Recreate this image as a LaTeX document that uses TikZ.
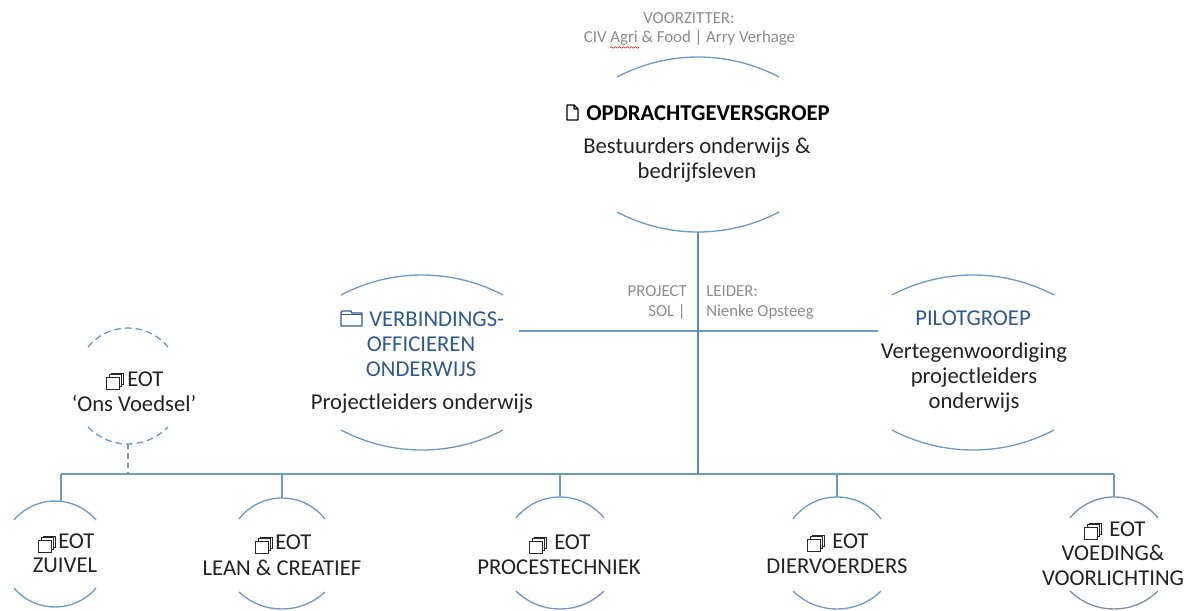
\documentclass[tikz,border=0pt]{standalone}
\usepackage{fontspec}
\setmainfont{Carlito}
\usetikzlibrary{decorations.pathmorphing}
\definecolor{arcblue}{HTML}{6F9AC4}
\definecolor{linkblue}{HTML}{6C9BC8}
\definecolor{trunkblue}{HTML}{5488B8}
\definecolor{headblue}{HTML}{2F5A8C}
\definecolor{greytxt}{HTML}{8C8C8C}
\definecolor{inktxt}{HTML}{222222}
\definecolor{arcgrey}{HTML}{7F8FA6}
% circular arc pair: centre x, half chord, top end y, top sagitta, bottom end y, bottom sagitta, style
\newcommand{\arcpair}[7]{%
  \draw[#7] (#1-#2,#3) .. controls (#1-#2/3-2*#4*#4/3/#2,#3-#4*4/3) and (#1+#2/3+2*#4*#4/3/#2,#3-#4*4/3) .. (#1+#2,#3);
  \draw[#7] (#1-#2,#5) .. controls (#1-#2/3-2*#6*#6/3/#2,#5+#6*4/3) and (#1+#2/3+2*#6*#6/3/#2,#5+#6*4/3) .. (#1+#2,#5);
}
\tikzset{
  x=0.75pt,y=-0.75pt,
  arcline/.style={draw=arcblue,line width=1pt},
  dasharc/.style={draw=arcblue,line width=1pt,dash pattern=on 5pt off 3pt},
  greyarc/.style={draw=arcgrey,line width=1pt},
  link/.style={draw=linkblue,line width=1.2pt},
  trunk/.style={draw=trunkblue,line width=1.4pt},
  dashlink/.style={draw=arcblue,line width=1pt,dash pattern=on 4pt off 3pt},
  body/.style={align=center,inner sep=0pt,text=inktxt,font=\fontsize{17}{18.8}\selectfont},
  eot/.style={body,font=\fontsize{17}{18}\selectfont},
  head/.style={align=center,inner sep=0pt,text=headblue,font=\fontsize{17}{18.8}\selectfont},
  small/.style={inner sep=0pt,text=greytxt,font=\fontsize{12.6}{15}\selectfont},
  icon/.style={draw=black!85,line width=0.7pt,fill=white},
  cubeicon/.pic={
    \draw[icon] (-3,-8) rectangle (9,3);
    \draw[icon] (-5,-7) rectangle (7,5);
    \draw[icon] (-8,-4) rectangle (5,8);
  },
  docicon/.pic={
    \draw[draw=black,line width=1pt,line join=round] (-5,-8) -- (2,-8) -- (6,-4) -- (6,7) -- (-5,7) -- cycle (2,-8) -- (2,-4) -- (6,-4);
  },
  foldericon/.pic={
    \draw[draw=headblue,line width=1pt,line join=round] (-10,-6) -- (-9,-8) -- (0,-8) -- (1,-6) -- (11,-6) -- (11,7) -- (-10,7) -- cycle;
    \draw[draw=headblue,line width=0.6pt] (-10,-5) -- (11,-5);
  }
}
\begin{document}
\begin{tikzpicture}
\useasboundingbox (0,0) rectangle (1191,610);
% arcs
\arcpair{698}{81}{77}{20}{212}{20}{arcline}
\arcpair{422}{81}{295}{20}{430}{20}{arcline}
\arcpair{973}{81}{295}{20}{430}{20}{arcline}
\arcpair{128}{40}{347}{19}{427}{17}{dasharc}
\arcpair{55}{41}{520}{19}{588}{19}{arcline}
\arcpair{282}{43}{519}{21}{592}{17}{arcline}
\arcpair{560}{44}{518}{21}{591}{18}{arcline}
\arcpair{837}{44}{519}{22}{591}{18}{arcline}
\arcpair{1114}{44}{518}{21}{591}{18}{greyarc}
% connector end points
\coordinate (opdrFoot) at (698,232);
\coordinate (busHub) at (698,474);
\coordinate (verbEnd) at (519,331);
\coordinate (pilotEnd) at (878,331);
\coordinate (busZuivel) at (61,474);
\coordinate (busOns) at (128,474);
\coordinate (busLean) at (282,474);
\coordinate (busProces) at (560,474);
\coordinate (busDier) at (837,474);
\coordinate (busVoeding) at (1114,474);
\coordinate (onsFoot) at (128,444);
\coordinate (zuivelTop) at (61,501);
\coordinate (leanTop) at (282,498);
\coordinate (procesTop) at (560,497);
\coordinate (dierTop) at (837,497);
\coordinate (voedingTop) at (1114,497);
% connectors
\draw[link] (verbEnd) -- (pilotEnd);
\draw[link] (busZuivel) -- (busVoeding);
\draw[trunk] (opdrFoot) -- (busHub);
\draw[dashlink] (onsFoot) -- (busOns);
\draw[link] (busZuivel) -- (zuivelTop);
\draw[link] (busLean) -- (leanTop);
\draw[link] (busProces) -- (procesTop);
\draw[link] (busDier) -- (dierTop);
\draw[link] (busVoeding) -- (voedingTop);
% chair
\node[small] (vz) at (689,18) {VOORZITTER:};
\node[small] (civ) at (689.5,38) {CIV Agri \& Food | Arry Verhage};
\draw[red!80!black,line width=0.4pt,decorate,decoration={snake,amplitude=0.6pt,segment length=3pt}] (610,47.5) -- (639,47.5);
% top node
\pic at (572,113) {docicon};
\node[inner sep=0pt,text=black,font=\fontsize{17}{18}\selectfont\bfseries] (opdr) at (708,113) {OPDRACHTGEVERSGROEP};
\node[body] (best) at (697,160) {Bestuurders onderwijs \&\\bedrijfsleven};
% project leader
\node[small,anchor=east] (proj1) at (687,291) {PROJECT};
\node[small,anchor=east] (proj2) at (686,312) {SOL |};
\node[small,anchor=west] (lei1) at (706,291) {LEIDER:};
\node[small,anchor=west] (lei2) at (706,312) {Nienke Opsteeg};
% verbindingsofficieren
\pic at (351,319) {foldericon};
\node[head,anchor=west] (v1) at (369,319) {VERBINDINGS-};
\node[head] (v2) at (421,344) {OFFICIEREN};
\node[head] (v3) at (421,369) {ONDERWIJS};
\node[body] (pl) at (422,404) {Projectleiders onderwijs};
% pilotgroep
\node[head] (pilot) at (973,318) {PILOTGROEP};
\node[body] (pilotb) at (974,378) {Vertegenwoordiging\\projectleiders\\onderwijs};
% EOT ons voedsel
\pic at (114,381) {cubeicon};
\node[eot,anchor=west] (ons1) at (127,379) {EOT};
\node[eot] (ons2) at (134,403) {‘Ons Voedsel’};
% EOT row
\pic at (46,544) {cubeicon};
\node[eot,anchor=west] (z1) at (58,541) {EOT};
\node[eot] (z2) at (65,565) {ZUIVEL};
\pic at (263,545) {cubeicon};
\node[eot,anchor=west] (l1) at (275,542) {EOT};
\node[eot] (l2) at (282,568) {LEAN \& CREATIEF};
\pic at (537,545) {cubeicon};
\node[eot,anchor=west] (p1) at (554,542) {EOT};
\node[eot] (p2) at (559,567) {PROCESTECHNIEK};
\pic at (815,543) {cubeicon};
\node[eot,anchor=west] (d1) at (832,541) {EOT};
\node[eot] (d2) at (837,566) {DIERVOERDERS};
\pic at (1092,531) {cubeicon};
\node[eot,anchor=west] (e1) at (1109,529) {EOT};
\node[eot] (e2) at (1113,553) {VOEDING\&};
\node[eot] (e3) at (1113,578) {VOORLICHTING};
\end{tikzpicture}
\end{document}
